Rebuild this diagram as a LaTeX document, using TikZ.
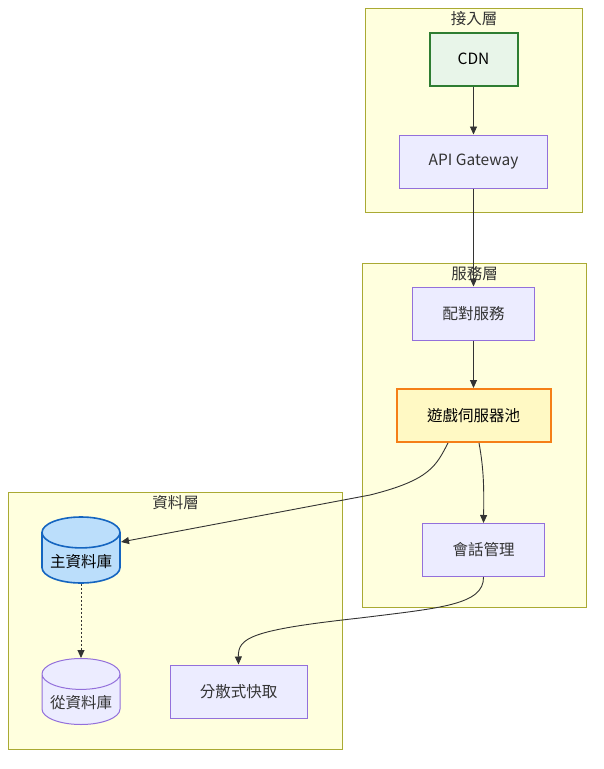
\documentclass[tikz,border=0pt]{standalone}
\usepackage{fontspec}
\newfontfamily\cjkfont{Noto Sans CJK TC}
\usetikzlibrary{arrows.meta,positioning,shapes.geometric}
\definecolor{clusterfill}{HTML}{FFFFDE}
\definecolor{clusterline}{HTML}{AAAA33}
\definecolor{nodefill}{HTML}{ECECFF}
\definecolor{nodeline}{HTML}{9370DB}
\definecolor{inkgray}{HTML}{333333}
\definecolor{edgefill}{HTML}{E8F5E9}
\definecolor{edgeline}{HTML}{2E7D32}
\definecolor{poolfill}{HTML}{FFF9C4}
\definecolor{poolline}{HTML}{F57F17}
\definecolor{dbfill}{HTML}{BBDEFB}
\definecolor{dbline}{HTML}{1565C0}
\begin{document}
\begin{tikzpicture}[
    x=1pt, y=-1pt,
    every node/.style={font=\cjkfont\fontsize{15.5}{18}\selectfont, text=inkgray},
    cluster/.style={draw=clusterline, fill=clusterfill, line width=1pt, anchor=north west, inner sep=0pt},
    title/.style={inner sep=1pt},
    block/.style={draw=nodeline, fill=nodefill, line width=1pt, minimum height=53pt},
    db/.style={cylinder, shape border rotate=90, aspect=0.45, draw=nodeline, fill=nodefill, line width=1pt, minimum width=78pt, minimum height=66pt, anchor=shape center},
    arrow/.style={-{Triangle[length=8pt,width=7pt]}, draw=inkgray, line width=0.9pt}
]
\fill[white] (0,0) rectangle (603,769);
\useasboundingbox (0,0) rectangle (603,769);

% clusters
\node[cluster, minimum width=217pt, minimum height=204pt] (access) at (365,8) {};
\node[title, below=2pt of access.north] (accesstitle) {接入層};
\node[cluster, minimum width=224pt, minimum height=344pt] (service) at (362,263) {};
\node[title, below=2pt of service.north] (servicetitle) {服務層};
\node[cluster, minimum width=334pt, minimum height=257pt] (data) at (8,492) {};
\node[title, below=2pt of data.north] (datatitle) {資料層};

% nodes
\node[block, minimum width=88pt, draw=edgeline, fill=edgefill, line width=2pt, text=black] (cdn) at (473.5,59) {CDN};
\node[block, minimum width=148pt] (gateway) at (473.5,161.5) {API Gateway};
\node[block, minimum width=122pt] (match) at (473.5,313.5) {配對服務};
\node[block, minimum width=154pt, draw=poolline, fill=poolfill, line width=2pt, text=black] (gamepool) at (473.5,415.5) {遊戲伺服器池};
\node[block, minimum width=122pt] (session) at (483.5,550) {會話管理};
\node[db, draw=dbline, fill=dbfill, line width=1.6pt, text=black] (primarydb) at (81,550) {主資料庫};
\node[db] (replicadb) at (81,691.5) {從資料庫};
\node[block, minimum width=137pt] (cache) at (238.5,691.5) {分散式快取};

% edges
\draw[arrow] (cdn) -- (gateway);
\draw[arrow] (gateway) -- (match);
\draw[arrow] (match) -- (gamepool);
\draw[arrow] ([xshift=-25.5pt]gamepool.south) .. controls (436,466) and (430,480) .. (370,495) -- ([shift={(40,-8)}]primarydb.shape center);
\draw[arrow] ([xshift=5.5pt]gamepool.south) .. controls (484,470) and (484,490) .. (session.north);
\draw[arrow] (session.south) .. controls (484,605) and (440,608) .. (360,618) .. controls (250,630) and (238,638) .. (cache.north);
\draw[arrow, dash pattern=on 2pt off 2pt] (primarydb.bottom) -- (replicadb.top);
\end{tikzpicture}
\end{document}
